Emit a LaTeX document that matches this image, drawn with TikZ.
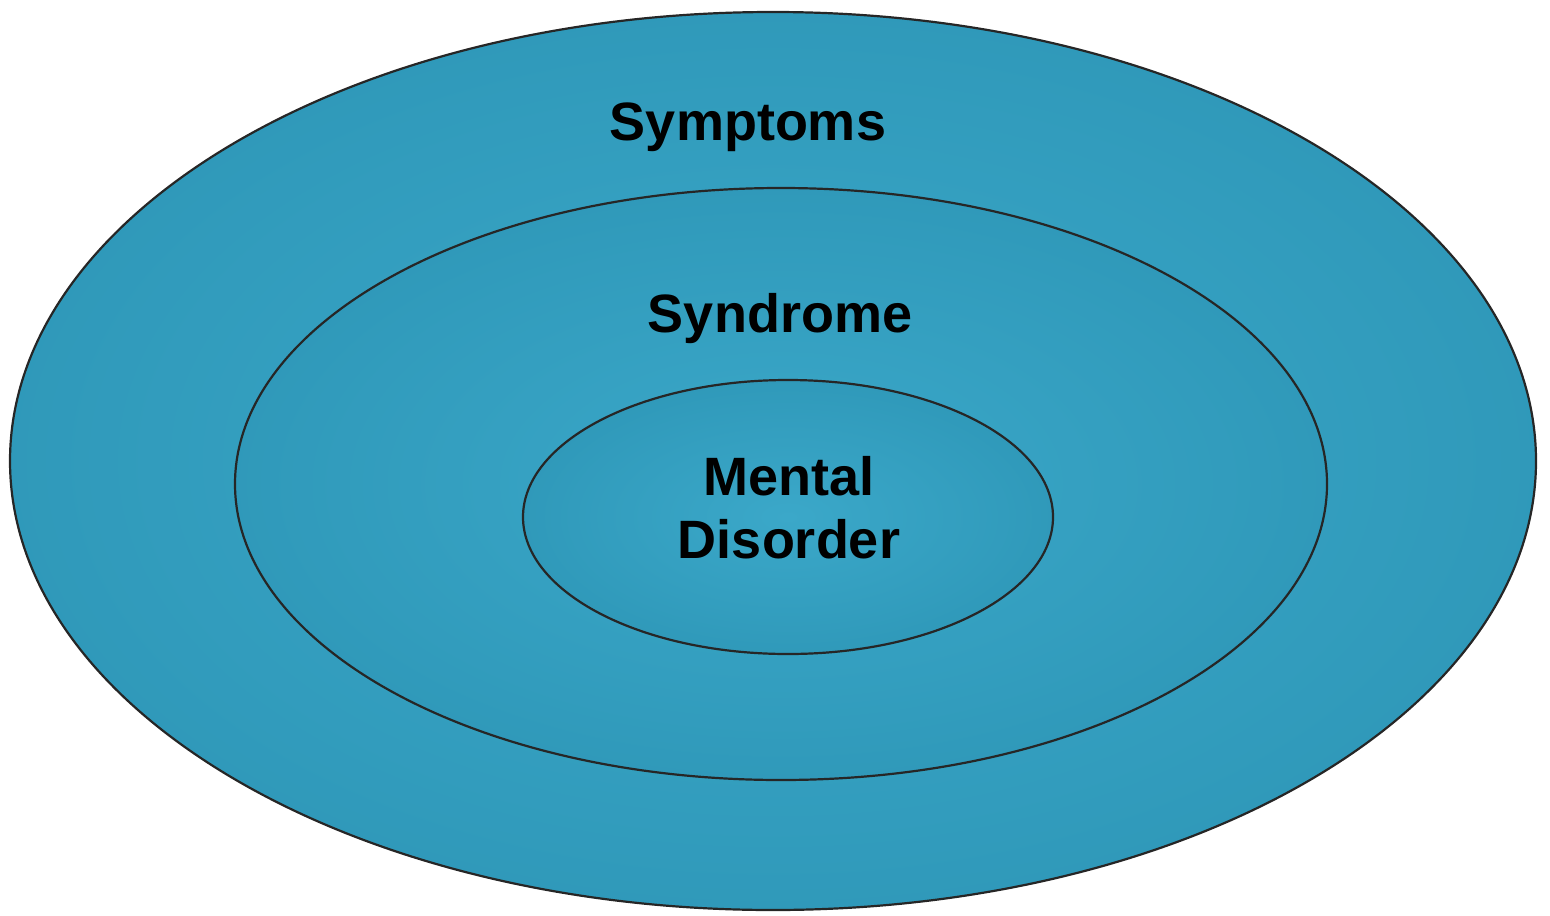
\documentclass[tikz,border=0pt]{standalone}
\usepackage{fontspec}
\setmainfont{Liberation Sans}
\usetikzlibrary{shapes.geometric}
\definecolor{tealin}{HTML}{3BA8C9}
\definecolor{tealout}{HTML}{2288A8}
\pgfdeclareradialshading{ringshade}{\pgfpoint{0bp}{0bp}}{color(0bp)=(tealin); color(22bp)=(tealin!60!tealout); color(50bp)=(tealout); color(70bp)=(tealout)}
\tikzset{
  ring/.style={ellipse, draw=black!85, line width=1.1pt, shading=ringshade, inner sep=0pt},
  lbl/.style={font=\bfseries\fontsize{27}{31.5}\selectfont, text=black, align=center}
}
\begin{document}
\begin{tikzpicture}[x=0.5pt,y=-0.5pt]
\useasboundingbox (0,0) rectangle (1550,915);
\node[ring, minimum width=763pt, minimum height=449pt] (outer) at (773,461) {};
\node[ring, minimum width=546pt, minimum height=296pt] (middle) at (781,484) {};
\node[ring, minimum width=265pt, minimum height=137pt] (inner) at (788,517) {};
\node[lbl] (symptoms) at (748,127) {Symptoms};
\node[lbl] (syndrome) at (780,319) {Syndrome};
\node[lbl] (mental) at (789,508) {Mental\\Disorder};
\end{tikzpicture}
\end{document}
